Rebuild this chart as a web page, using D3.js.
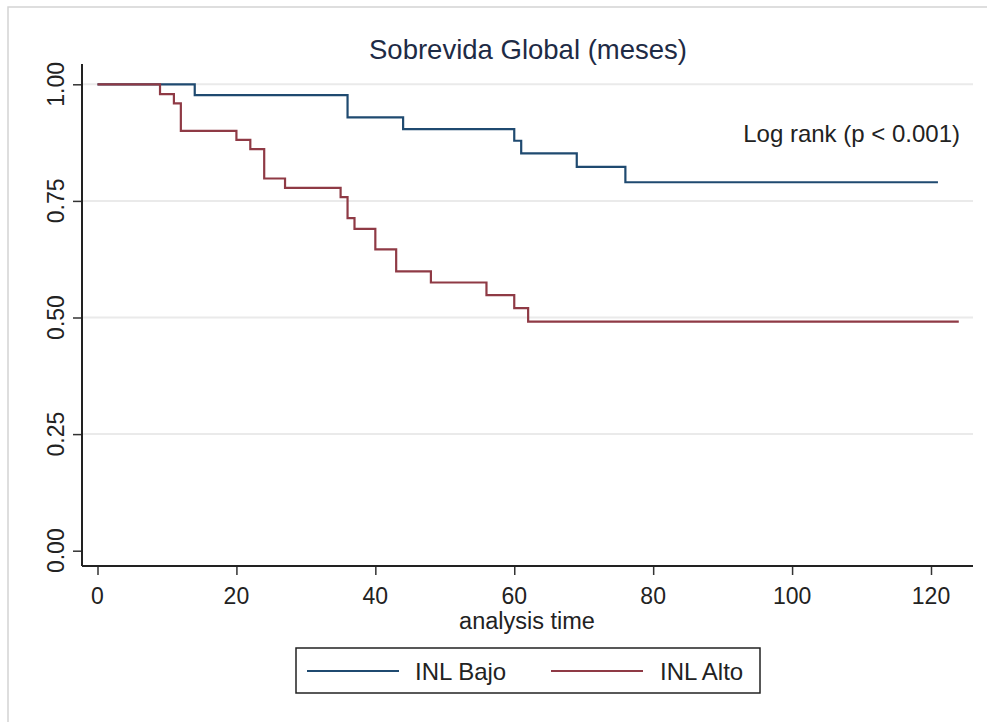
<!DOCTYPE html>
<html>
<head>
<meta charset="utf-8">
<script src="https://cdn.jsdelivr.net/npm/d3@7"></script>
<style>
  html, body { margin: 0; padding: 0; background: #ffffff; }
  svg { display: block; font-family: "Liberation Sans", Arial, sans-serif; }
</style>
</head>
<body>
<svg id="chart" width="987" height="722"></svg>
<script>
// ---- Data ----
const bajoTime = [0, 14, 36, 44, 60, 61, 69, 76, 121];
const bajoSurv = [1.00, 0.977, 0.929, 0.904, 0.879, 0.852, 0.823, 0.790, 0.790];

const altoTime = [0, 9, 11, 12, 20, 22, 24, 27, 35, 36, 37, 40, 43, 48, 56, 60, 62, 124];
const altoSurv = [1.00, 0.979, 0.959, 0.900, 0.881, 0.861, 0.798, 0.778, 0.758, 0.713, 0.690, 0.646, 0.599, 0.575, 0.548, 0.520, 0.491, 0.491];

const xTicks = [0, 20, 40, 60, 80, 100, 120];
const yTicks = [0, 0.25, 0.5, 0.75, 1.0];
const seriesNames = ["INL Bajo", "INL Alto"];
const seriesColors = ["#1f4a70", "#8f3a45"];
const titleText = "Sobrevida Global (meses)";
const xLabel = "analysis time";
const noteText = "Log rank (p < 0.001)";

// ---- Layout ----
const svg = d3.select("#chart");
const axisX0 = 82, axisX1 = 973, axisYTop = 64, axisYBot = 566;

const x = d3.scaleLinear().domain([0, 120]).range([97.5, 931]);
const y = d3.scaleLinear().domain([0, 1]).range([550.7, 84.3]);

// outer border (only left & top visible)
svg.append("rect").attr("x", 8).attr("y", 7).attr("width", 1200).attr("height", 1000)
  .attr("fill", "none").attr("stroke", "#d4d4d4").attr("stroke-width", 1.5);

// gridlines
svg.append("g").selectAll("line").data(yTicks.filter(d => d > 0)).join("line")
  .attr("x1", axisX0).attr("x2", axisX1)
  .attr("y1", d => y(d)).attr("y2", d => y(d))
  .attr("stroke", "#eaeaea").attr("stroke-width", 2);

// y axis
const yAxis = svg.append("g").attr("transform", `translate(${axisX0},0)`)
  .call(d3.axisLeft(y).tickValues(yTicks).tickSize(9).tickFormat(d3.format(".2f")));
yAxis.select(".domain").remove();
yAxis.selectAll(".tick line").attr("stroke", "#333").attr("stroke-width", 1.5);
yAxis.selectAll(".tick text").remove();
svg.append("line").attr("x1", axisX0).attr("x2", axisX0).attr("y1", axisYTop).attr("y2", axisYBot)
  .attr("stroke", "#222").attr("stroke-width", 2);

svg.append("g").selectAll("text").data(yTicks).join("text")
  .attr("transform", d => `translate(63.5,${y(d)}) rotate(-90)`)
  .attr("text-anchor", "middle")
  .attr("font-size", 23)
  .attr("fill", "#222")
  .text(d => d3.format(".2f")(d));

// x axis
const xAxis = svg.append("g").attr("transform", `translate(0,${axisYBot})`)
  .call(d3.axisBottom(x).tickValues(xTicks).tickSize(9));
xAxis.select(".domain").remove();
xAxis.selectAll(".tick line").attr("stroke", "#333").attr("stroke-width", 1.5);
xAxis.selectAll(".tick text").remove();
svg.append("line").attr("x1", axisX0).attr("x2", axisX1).attr("y1", axisYBot).attr("y2", axisYBot)
  .attr("stroke", "#222").attr("stroke-width", 2);

svg.append("g").selectAll("text").data(xTicks).join("text")
  .attr("x", d => x(d)).attr("y", 604)
  .attr("text-anchor", "middle")
  .attr("font-size", 23)
  .attr("fill", "#222")
  .text(d => d);

svg.append("text").attr("x", 527).attr("y", 629).attr("text-anchor", "middle")
  .attr("font-size", 23.5).attr("fill", "#222").text(xLabel);

// title
svg.append("text").attr("x", 528).attr("y", 59).attr("text-anchor", "middle")
  .attr("font-size", 27.5).attr("fill", "#1e2b45").text(titleText);

// note
svg.append("text").attr("x", 960).attr("y", 141.5).attr("text-anchor", "end")
  .attr("font-size", 24).attr("fill", "#222").text(noteText);

// curves
const line = d3.line().x(d => x(d[0])).y(d => y(d[1])).curve(d3.curveStepAfter);
const series = [
  d3.zip(bajoTime, bajoSurv),
  d3.zip(altoTime, altoSurv)
];
svg.append("g").selectAll("path").data(series).join("path")
  .attr("d", d => line(d))
  .attr("fill", "none")
  .attr("stroke", (d, i) => seriesColors[i])
  .attr("stroke-width", 2.2);

// legend
svg.append("rect").attr("x", 296).attr("y", 648).attr("width", 464).attr("height", 45)
  .attr("fill", "#fff").attr("stroke", "#222").attr("stroke-width", 1.5);
const legX = [[307, 399, 415], [551, 643, 660]];
const leg = svg.append("g").selectAll("g").data(seriesNames).join("g");
leg.append("line")
  .attr("x1", (d, i) => legX[i][0]).attr("x2", (d, i) => legX[i][1])
  .attr("y1", 671).attr("y2", 671)
  .attr("stroke", (d, i) => seriesColors[i]).attr("stroke-width", 2.2);
leg.append("text")
  .attr("x", (d, i) => legX[i][2]).attr("y", 680)
  .attr("font-size", 24).attr("fill", "#222")
  .text(d => d);
</script>
</body>
</html>
